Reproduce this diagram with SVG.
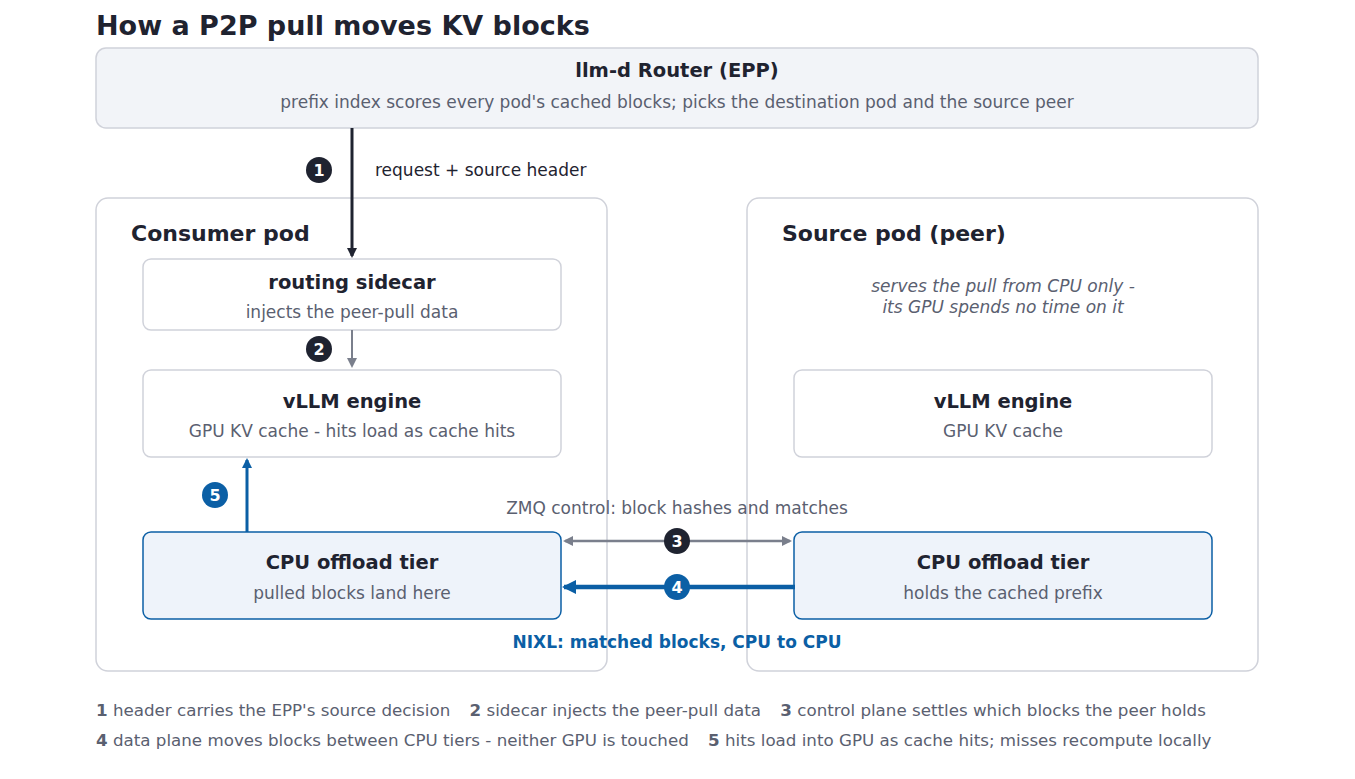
<svg xmlns="http://www.w3.org/2000/svg" width="1355" height="779" viewBox="0 0 1355 779">
<style>
text{font-family:"DejaVu Sans","Noto Sans",sans-serif}
.t{font-weight:bold;fill:#1f2330;font-size:19.5px;text-anchor:middle}
.s{fill:#5a6070;font-size:17px;text-anchor:middle}
.pod{fill:#fff;stroke:#d0d2da;stroke-width:1.5}
.box{fill:#fff;stroke:#d0d2da;stroke-width:1.5}
.cpu{fill:#eef3fa;stroke:#0b5fa5;stroke-width:1.5}
.bn{fill:#fff;font-size:16px;font-weight:bold;text-anchor:middle}
.f{fill:#5a6070;font-size:16.7px}
.f tspan.b{font-weight:bold}
</style>
<defs>
<marker id="ad" markerWidth="10" markerHeight="10" refX="8" refY="5" orient="auto" markerUnits="userSpaceOnUse"><path d="M0,0 L10,5 L0,10 z" fill="#1f2330"/></marker>
<marker id="ag" markerWidth="10" markerHeight="10" refX="8" refY="5" orient="auto-start-reverse" markerUnits="userSpaceOnUse"><path d="M0,0 L10,5 L0,10 z" fill="#7a7f8c"/></marker>
<marker id="ab" markerWidth="10" markerHeight="10" refX="8" refY="5" orient="auto" markerUnits="userSpaceOnUse"><path d="M0,0 L10,5 L0,10 z" fill="#0b5fa5"/></marker>
<marker id="ab2" markerWidth="14" markerHeight="14" refX="12" refY="7" orient="auto" markerUnits="userSpaceOnUse"><path d="M0,0 L14,7 L0,14 z" fill="#0b5fa5"/></marker>
</defs>
<rect width="1355" height="779" fill="#fff"/>
<text x="96" y="35" font-size="27" font-weight="bold" fill="#1f2330">How a P2P pull moves KV blocks</text>
<g id="router"><rect x="96" y="48" width="1162" height="80" rx="10" fill="#f2f4f8" stroke="#d0d2da" stroke-width="1.5"/>
<text class="t" x="677" y="77" font-size="22">llm-d Router (EPP)</text>
<text class="s" x="677" y="108">prefix index scores every pod's cached blocks; picks the destination pod and the source peer</text></g>
<g id="consumer-pod"><rect class="pod" x="96" y="198" width="511" height="473" rx="12"/>
<text x="131" y="241" font-size="22" font-weight="bold" fill="#1f2330">Consumer pod</text></g>
<g id="source-pod"><rect class="pod" x="747" y="198" width="511" height="473" rx="12"/>
<text x="782" y="241" font-size="22" font-weight="bold" fill="#1f2330">Source pod (peer)</text>
<text class="s" x="1003" y="292" font-style="italic">serves the pull from CPU only -</text>
<text class="s" x="1003" y="313" font-style="italic">its GPU spends no time on it</text></g>
<g id="sidecar"><rect class="box" x="143" y="259" width="418" height="71" rx="8"/>
<text class="t" x="352" y="289">routing sidecar</text><text class="s" x="352" y="318">injects the peer-pull data</text></g>
<g id="vllm-left"><rect class="box" x="143" y="370" width="418" height="87" rx="8"/>
<text class="t" x="352" y="408">vLLM engine</text><text class="s" x="352" y="437">GPU KV cache - hits load as cache hits</text></g>
<g id="vllm-right"><rect class="box" x="794" y="370" width="418" height="87" rx="8"/>
<text class="t" x="1003" y="408">vLLM engine</text><text class="s" x="1003" y="437">GPU KV cache</text></g>
<g id="cpu-left"><rect class="cpu" x="143" y="532" width="418" height="87" rx="8"/>
<text class="t" x="352" y="569">CPU offload tier</text><text class="s" x="352" y="599">pulled blocks land here</text></g>
<g id="cpu-right"><rect class="cpu" x="794" y="532" width="418" height="87" rx="8"/>
<text class="t" x="1003" y="569">CPU offload tier</text><text class="s" x="1003" y="599">holds the cached prefix</text></g>
<g id="connectors">
<line x1="352" y1="128" x2="352" y2="256" stroke="#1f2330" stroke-width="3" marker-end="url(#ad)"/>
<circle cx="319" cy="170" r="13" fill="#1f2330"/><text class="bn" x="319" y="176">1</text>
<text x="375" y="176" font-size="17" fill="#1f2330">request + source header</text>
<line x1="352" y1="330" x2="352" y2="366" stroke="#7a7f8c" stroke-width="2" marker-end="url(#ag)"/>
<circle cx="319" cy="349" r="13" fill="#1f2330"/><text class="bn" x="319" y="355">2</text>
<line x1="247" y1="532" x2="247" y2="460" stroke="#0b5fa5" stroke-width="3" marker-end="url(#ab)"/>
<circle cx="215" cy="495" r="13" fill="#0b5fa5"/><text class="bn" x="215" y="501">5</text>
<text class="s" x="677" y="514">ZMQ control: block hashes and matches</text>
<line x1="565" y1="541" x2="790" y2="541" stroke="#7a7f8c" stroke-width="2.5" marker-start="url(#ag)" marker-end="url(#ag)"/>
<circle cx="677" cy="541" r="13" fill="#1f2330"/><text class="bn" x="677" y="547">3</text>
<line x1="795" y1="587" x2="564" y2="587" stroke="#0b5fa5" stroke-width="4.5" marker-end="url(#ab2)"/>
<circle cx="677" cy="587" r="13" fill="#0b5fa5"/><text class="bn" x="677" y="593">4</text>
<text x="677" y="648" font-size="17" font-weight="bold" fill="#0b5fa5" text-anchor="middle">NIXL: matched blocks, CPU to CPU</text>
</g>
<text class="f" x="96" y="716"><tspan class="b">1</tspan> header carries the EPP's source decision <tspan class="b" dx="14">2</tspan> sidecar injects the peer-pull data <tspan class="b" dx="14">3</tspan> control plane settles which blocks the peer holds</text>
<text class="f" x="96" y="746"><tspan class="b">4</tspan> data plane moves blocks between CPU tiers - neither GPU is touched <tspan class="b" dx="14">5</tspan> hits load into GPU as cache hits; misses recompute locally</text>
</svg>
